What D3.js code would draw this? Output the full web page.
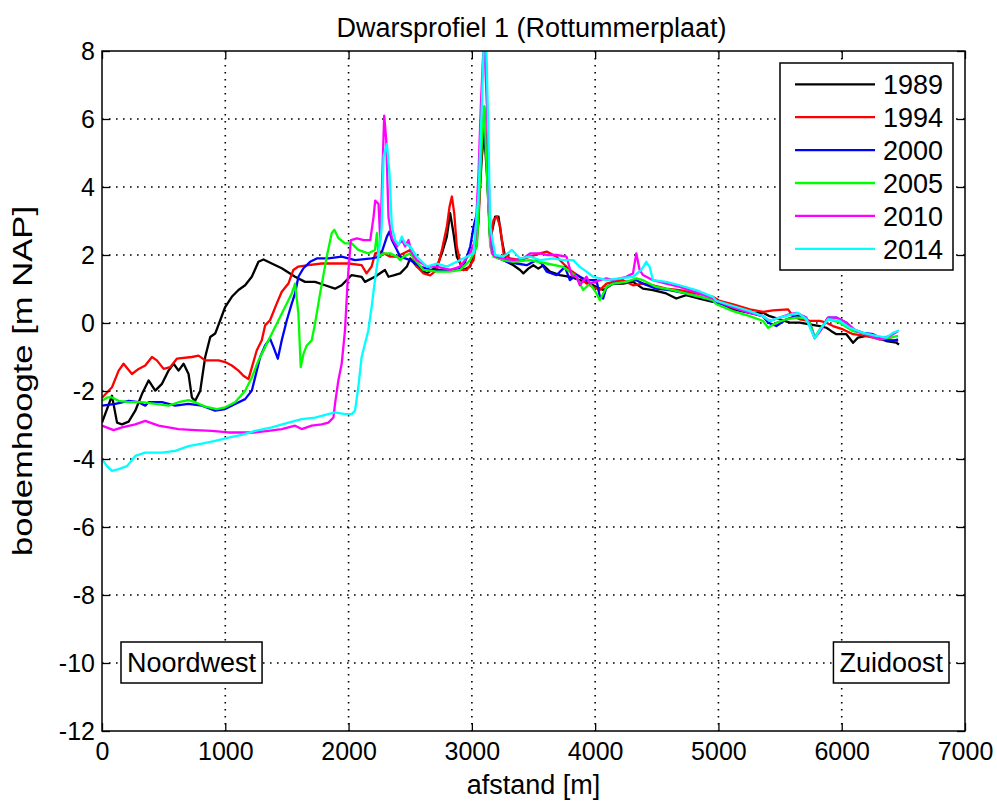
<!DOCTYPE html>
<html><head><meta charset="utf-8">
<script src="https://cdn.jsdelivr.net/npm/d3@7"></script>
<style>
body{margin:0;background:#fff;}
text{font-family:"Liberation Sans",Arial,Helvetica,sans-serif;fill:#000;}
</style></head>
<body><svg id="chart" width="997" height="801"></svg>
<script>
const title = "Dwarsprofiel 1 (Rottummerplaat)";
const xLabel = "afstand [m]";
const yLabel = "bodemhoogte [m NAP]";
const xTicks = [0,1000,2000,3000,4000,5000,6000,7000];
const yTicks = [-12,-10,-8,-6,-4,-2,0,2,4,6,8];
const years = ["1989","1994","2000","2005","2010","2014"];
const colors = ["#000000","#ff0000","#0000ff","#00ff00","#ff00ff","#00ffff"];

const s1989 = [[0,-2.93],[81,-2.14],[122,-2.93],[162,-2.98],[216,-2.9],[270,-2.58],[324,-2.09],[378,-1.69],[432,-1.99],[486,-1.79],[540,-1.4],[581,-1.2],[621,-1.4],[662,-1.2],[702,-1.5],[729,-2.19],[756,-2.29],[797,-1.99],[837,-1.0],[878,-0.41],[918,-0.31],[959,0.08],[999,0.47],[1053,0.77],[1107,0.97],[1161,1.11],[1215,1.36],[1269,1.8],[1310,1.87],[1377,1.75],[1458,1.61],[1566,1.36],[1647,1.21],[1728,1.21],[1809,1.11],[1890,1.01],[1944,1.11],[2025,1.41],[2106,1.36],[2133,1.21],[2214,1.36],[2295,1.56],[2324,1.36],[2365,1.4],[2419,1.46],[2473,1.66],[2500,1.9],[2554,1.66],[2635,1.46],[2716,1.66],[2757,2.05],[2797,2.54],[2824,3.23],[2851,2.64],[2878,1.95],[2932,1.56],[2987,1.66],[3041,2.44],[3081,4.9],[3100,5.6],[3122,4.4],[3149,2.44],[3189,3.13],[3216,3.13],[3243,2.44],[3270,1.95],[3283,1.8],[3337,1.7],[3391,1.56],[3418,1.46],[3458,1.6],[3499,1.7],[3539,1.6],[3580,1.7],[3633,1.51],[3714,1.41],[3795,1.36],[3876,1.26],[3957,1.16],[4011,1.06],[4065,0.97],[4146,1.16],[4226,1.16],[4307,1.21],[4388,1.01],[4469,0.97],[4577,0.87],[4658,0.72],[4738,0.82],[4846,0.72],[4954,0.62],[5011,0.6],[5119,0.4],[5254,0.3],[5362,0.3],[5416,0.2],[5497,0.11],[5578,0.01],[5660,0.01],[5741,-0.04],[5822,-0.09],[5876,-0.14],[5916,-0.24],[5957,-0.33],[6038,-0.33],[6092,-0.58],[6132,-0.43],[6200,-0.38],[6281,-0.43],[6362,-0.53],[6443,-0.58],[6465,-0.63]];

const s1994 = [[0,-2.2],[81,-1.89],[135,-1.4],[175,-1.2],[243,-1.5],[297,-1.35],[351,-1.25],[405,-1.0],[445,-1.1],[500,-1.35],[553,-1.3],[607,-1.05],[729,-1.0],[783,-0.96],[837,-1.1],[945,-1.1],[999,-1.15],[1053,-1.25],[1107,-1.4],[1147,-1.55],[1188,-1.65],[1255,-0.81],[1296,-0.51],[1323,-0.07],[1363,0.08],[1417,0.57],[1458,0.92],[1512,1.16],[1552,1.56],[1593,1.66],[1674,1.7],[1782,1.75],[1890,1.75],[1998,1.75],[2106,1.7],[2146,1.46],[2187,1.66],[2216,2.05],[2257,2.1],[2284,2.05],[2338,1.95],[2392,1.95],[2446,2.05],[2500,2.15],[2554,1.66],[2608,1.46],[2662,1.4],[2716,1.56],[2757,2.15],[2797,2.83],[2819,3.42],[2838,3.72],[2857,3.23],[2878,2.25],[2919,1.56],[2960,1.56],[3014,1.85],[3054,2.93],[3081,5.36],[3100,6.36],[3122,4.9],[3149,2.44],[3176,3.03],[3203,3.13],[3230,2.83],[3257,2.05],[3310,1.9],[3391,1.85],[3472,1.95],[3553,2.05],[3607,2.1],[3687,1.95],[3741,1.75],[3795,1.56],[3876,1.36],[3930,1.16],[3984,1.06],[4038,0.97],[4092,1.16],[4146,1.21],[4226,1.26],[4307,1.11],[4388,1.16],[4469,1.11],[4577,1.01],[4685,0.97],[4819,0.87],[4954,0.77],[5011,0.65],[5119,0.55],[5254,0.4],[5362,0.33],[5443,0.37],[5565,0.4],[5605,0.2],[5660,0.11],[5741,0.06],[5822,0.06],[5876,0.01],[5930,-0.09],[6011,-0.19],[6092,-0.33],[6200,-0.38],[6308,-0.48],[6389,-0.48],[6457,-0.53]];

const s2000 = [[0,-2.43],[108,-2.38],[216,-2.29],[297,-2.33],[351,-2.43],[378,-2.33],[486,-2.33],[594,-2.43],[702,-2.38],[810,-2.43],[918,-2.58],[999,-2.53],[1080,-2.38],[1161,-2.24],[1215,-1.99],[1242,-1.6],[1283,-1.0],[1323,-0.66],[1363,-0.46],[1391,-0.71],[1426,-1.05],[1458,-0.51],[1499,0.08],[1539,0.57],[1566,0.87],[1593,1.36],[1634,1.61],[1688,1.8],[1742,1.9],[1836,1.9],[1944,1.95],[2052,1.85],[2187,1.9],[2257,1.95],[2311,2.54],[2332,2.69],[2351,2.44],[2378,2.25],[2419,1.95],[2500,1.85],[2581,1.66],[2662,1.56],[2770,1.56],[2878,1.56],[2932,1.66],[2987,2.25],[3014,2.83],[3054,3.42],[3081,5.87],[3100,6.0],[3122,4.6],[3149,2.44],[3189,1.95],[3284,1.8],[3365,1.75],[3445,1.7],[3526,1.85],[3566,1.75],[3607,1.51],[3687,1.41],[3755,1.65],[3795,1.26],[3849,1.41],[3930,1.26],[4011,1.26],[4038,0.77],[4065,0.72],[4092,1.06],[4146,1.16],[4253,1.21],[4334,1.26],[4388,1.16],[4496,1.01],[4604,0.97],[4738,0.87],[4900,0.72],[4984,0.6],[5119,0.45],[5254,0.3],[5362,0.2],[5403,0.01],[5470,-0.09],[5551,0.11],[5632,0.2],[5687,0.2],[5741,0.01],[5781,-0.43],[5822,-0.24],[5889,0.16],[5957,0.16],[6038,0.01],[6092,-0.19],[6173,-0.29],[6254,-0.33],[6335,-0.48],[6416,-0.53],[6457,-0.48]];

const s2005 = [[0,-2.29],[41,-2.19],[81,-2.19],[135,-2.29],[216,-2.33],[324,-2.33],[432,-2.38],[540,-2.43],[621,-2.33],[702,-2.27],[756,-2.33],[837,-2.46],[932,-2.53],[999,-2.48],[1080,-2.33],[1161,-1.99],[1215,-1.6],[1269,-1.1],[1323,-0.71],[1404,-0.12],[1485,0.47],[1539,0.87],[1566,1.16],[1593,0.28],[1612,-1.3],[1634,-0.91],[1661,-0.66],[1701,-0.51],[1728,-0.02],[1769,0.87],[1823,1.95],[1863,2.64],[1885,2.74],[1917,2.5],[1971,2.34],[2025,2.34],[2079,2.15],[2160,2.05],[2214,2.15],[2230,2.64],[2243,1.95],[2284,2.05],[2338,2.05],[2392,1.95],[2419,1.85],[2446,1.95],[2500,2.05],[2541,1.85],[2608,1.56],[2716,1.51],[2824,1.51],[2905,1.56],[2987,1.85],[3041,2.25],[3081,5.36],[3100,6.36],[3122,4.4],[3149,2.25],[3176,1.95],[3257,1.85],[3337,1.8],[3472,1.85],[3607,1.75],[3741,1.65],[3849,1.36],[3903,0.97],[3957,1.16],[4011,0.87],[4038,0.67],[4092,1.06],[4146,1.16],[4253,1.21],[4334,1.31],[4388,1.26],[4496,1.06],[4631,0.97],[4792,0.82],[4954,0.67],[4984,0.55],[5119,0.35],[5254,0.2],[5362,0.06],[5403,-0.14],[5470,0.01],[5551,0.11],[5632,0.16],[5687,0.16],[5741,0.01],[5781,-0.43],[5822,-0.19],[5889,0.11],[5984,0.01],[6092,-0.24],[6200,-0.33],[6308,-0.48],[6389,-0.43],[6457,-0.38]];

const s2010 = [[0,-3.02],[95,-3.15],[162,-3.07],[270,-2.98],[351,-2.88],[459,-3.02],[621,-3.12],[756,-3.15],[891,-3.17],[1026,-3.22],[1161,-3.22],[1242,-3.22],[1350,-3.17],[1458,-3.12],[1566,-3.02],[1620,-3.12],[1701,-3.02],[1782,-2.98],[1836,-2.93],[1877,-2.78],[1890,-2.38],[1917,-1.69],[1944,-1.2],[1971,-0.22],[1993,1.26],[2012,2.15],[2019,2.44],[2068,2.49],[2122,2.44],[2176,2.44],[2203,3.13],[2216,3.6],[2243,3.5],[2257,2.44],[2289,6.1],[2305,5.4],[2324,3.1],[2351,2.5],[2392,2.25],[2432,2.44],[2459,2.25],[2486,2.44],[2514,2.05],[2554,1.85],[2635,1.66],[2716,1.66],[2824,1.56],[2905,1.66],[2987,2.05],[3027,2.44],[3054,4.4],[3073,6.4],[3089,7.7],[3100,8.3],[3122,6.4],[3143,3.42],[3162,2.05],[3189,1.95],[3257,1.9],[3337,1.85],[3418,1.9],[3472,2.05],[3553,2.05],[3607,2.0],[3687,2.0],[3768,1.95],[3809,1.41],[3849,1.36],[3876,1.11],[3930,1.36],[3957,1.16],[4038,1.26],[4092,1.31],[4146,1.26],[4253,1.36],[4307,1.46],[4334,2.05],[4361,1.56],[4388,1.41],[4469,1.26],[4577,1.16],[4685,1.06],[4846,0.87],[4954,0.72],[4984,0.65],[5119,0.45],[5254,0.3],[5362,0.2],[5416,0.06],[5497,0.16],[5578,0.26],[5632,0.3],[5714,0.16],[5781,-0.45],[5835,-0.19],[5889,0.16],[5957,0.16],[6038,0.01],[6119,-0.24],[6200,-0.33],[6308,-0.48],[6389,-0.38],[6457,-0.24]];

const s2014 = [[0,-4.01],[41,-4.21],[81,-4.35],[135,-4.3],[203,-4.21],[270,-3.91],[351,-3.81],[486,-3.81],[594,-3.76],[702,-3.62],[810,-3.55],[918,-3.47],[1026,-3.37],[1134,-3.29],[1242,-3.17],[1377,-3.07],[1512,-2.93],[1620,-2.83],[1728,-2.78],[1890,-2.63],[1971,-2.68],[2025,-2.68],[2052,-2.58],[2079,-1.89],[2106,-1.0],[2133,-0.61],[2160,-0.22],[2187,0.47],[2214,1.26],[2241,1.95],[2268,2.8],[2284,4.9],[2311,5.26],[2332,4.4],[2351,2.83],[2378,2.44],[2405,2.29],[2432,2.54],[2459,2.34],[2500,2.25],[2554,1.95],[2635,1.66],[2716,1.75],[2797,1.66],[2878,1.8],[2960,1.95],[3014,2.05],[3054,3.8],[3081,6.4],[3100,8.6],[3116,8.4],[3135,5.36],[3149,2.83],[3189,2.0],[3257,1.95],[3324,2.15],[3391,1.9],[3472,1.95],[3553,1.85],[3660,1.9],[3741,1.85],[3822,1.85],[3876,1.65],[3930,1.51],[3984,1.36],[4038,1.31],[4092,1.26],[4199,1.31],[4307,1.36],[4375,1.56],[4415,1.8],[4442,1.65],[4469,1.26],[4577,1.21],[4685,1.11],[4819,0.97],[4954,0.77],[4984,0.65],[5119,0.5],[5254,0.35],[5362,0.2],[5416,0.06],[5497,0.16],[5578,0.24],[5646,0.3],[5714,0.11],[5781,-0.45],[5835,-0.14],[5889,0.11],[5984,0.06],[6065,-0.14],[6173,-0.29],[6281,-0.38],[6362,-0.43],[6416,-0.29],[6465,-0.22]];

const seriesData = [s1989,s1994,s2000,s2005,s2010,s2014];

const svg = d3.select("#chart");
const L = 102, R = 965, T = 51, B = 731;
const x = d3.scaleLinear().domain([0,7000]).range([L,R]);
const y = d3.scaleLinear().domain([-12,8]).range([B,T]);
const fs = 25, fsBig = 27;
const fmt = d => String(d).replace("\u2212","-");

// grid
const grid = svg.append("g");
xTicks.slice(1,-1).forEach(t=>{
  grid.append("line").attr("x1",x(t)).attr("x2",x(t)).attr("y1",T).attr("y2",B)
    .attr("stroke","#000").attr("stroke-width",1.6).attr("stroke-dasharray","1.6,5.4");
});
yTicks.slice(1,-1).forEach(t=>{
  grid.append("line").attr("x1",L).attr("x2",R).attr("y1",y(t)).attr("y2",y(t))
    .attr("stroke","#000").attr("stroke-width",1.6).attr("stroke-dasharray","1.6,5.4");
});

// lines
svg.append("clipPath").attr("id","clip").append("rect").attr("x",L).attr("y",T).attr("width",R-L).attr("height",B-T);
const line = d3.line().x(d=>x(d[0])).y(d=>y(d[1]));
const lg = svg.append("g").attr("clip-path","url(#clip)");
seriesData.forEach((s,i)=>{
  lg.append("path").datum(s).attr("d",line).attr("fill","none")
    .attr("stroke",colors[i]).attr("stroke-width",2.3).attr("stroke-linejoin","round");
});

// axes (ticks inward on all sides)
const tl = 8;
const axB = svg.append("g").attr("transform",`translate(0,${B})`)
  .call(d3.axisBottom(x).tickValues(xTicks).tickSize(-tl).tickPadding(11).tickFormat(fmt));
const axT = svg.append("g").attr("transform",`translate(0,${T})`)
  .call(d3.axisTop(x).tickValues(xTicks).tickSize(-tl).tickFormat(""));
const axL = svg.append("g").attr("transform",`translate(${L},0)`)
  .call(d3.axisLeft(y).tickValues(yTicks).tickSize(-tl).tickPadding(7).tickFormat(fmt));
const axR = svg.append("g").attr("transform",`translate(${R},0)`)
  .call(d3.axisRight(y).tickValues(yTicks).tickSize(-tl).tickFormat(""));
[axB,axT,axL,axR].forEach(a=>{
  a.select(".domain").remove();
  a.selectAll(".tick line").attr("stroke","#000").attr("stroke-width",1.3);
  a.selectAll("text").attr("font-size",fs).attr("font-family","Liberation Sans, Arial, sans-serif").attr("fill","#000");
});
svg.append("rect").attr("x",L).attr("y",T).attr("width",R-L).attr("height",B-T)
  .attr("fill","none").attr("stroke","#000").attr("stroke-width",1.5);

// labels
svg.append("text").attr("x",(L+R)/2 - 2).attr("y",37).attr("text-anchor","middle").attr("font-size",fsBig).text(title);
svg.append("text").attr("x",(L+R)/2).attr("y",794).attr("text-anchor","middle").attr("font-size",fsBig).text(xLabel);
svg.append("text").attr("transform",`translate(32,${(T+B)/2 - 10}) rotate(-90)`).attr("text-anchor","middle")
  .attr("font-size",fsBig).attr("textLength",350).attr("lengthAdjust","spacingAndGlyphs").text(yLabel);

// legend
const lgx = 780, lgy = 63, lgw = 173, lgh = 207;
svg.append("rect").attr("x",lgx).attr("y",lgy).attr("width",lgw).attr("height",lgh)
  .attr("fill","#fff").attr("stroke","#000").attr("stroke-width",1.5);
years.forEach((yr,i)=>{
  const cy = 84.3 + i*32.9;
  svg.append("line").attr("x1",795).attr("x2",875).attr("y1",cy).attr("y2",cy)
    .attr("stroke",colors[i]).attr("stroke-width",2.3);
  svg.append("text").attr("x",883).attr("y",cy+10).attr("font-size",fsBig).text(yr);
});

// annotation boxes
function box(txt, x0, yb, anchorRight){
  const t = svg.append("text").attr("font-size",fsBig).text(txt);
  const w = t.node().getComputedTextLength();
  const bw = w + 12, bh = 41;
  const bx = anchorRight ? x0 - bw : x0;
  svg.insert("rect", () => t.node()).attr("x",bx).attr("y",yb).attr("width",bw).attr("height",bh)
    .attr("fill","#fff").attr("stroke","#000").attr("stroke-width",1.5);
  t.attr("x",bx+6).attr("y",yb+30);
}
box("Noordwest",121,642,false);
box("Zuidoost",949,642,true);
</script></body></html>
